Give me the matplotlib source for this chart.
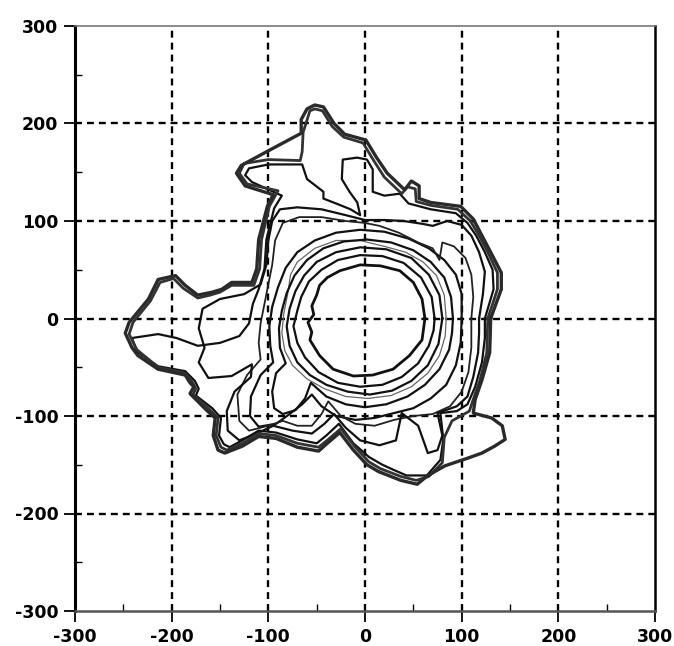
import matplotlib
matplotlib.use("Agg")
import matplotlib.pyplot as plt
from matplotlib.ticker import MultipleLocator

# Successive perimeter fronts (x, y), innermost first
front_1 = [(62, 0), (59, 20), (50, 37), (36, 49), (16, 54), (-5, 55), (-26, 49), (-39, 42), (-47, 34),
           (-50, 24), (-55, 13), (-53, 4), (-59, -4), (-55, -14), (-57, -22), (-47, -38), (-33, -52),
           (-12, -59), (8, -58), (29, -52), (46, -38), (59, -22)]
front_2 = [(72, 0), (69, 22), (58, 42), (40, 57), (18, 64), (-5, 65), (-28, 60), (-45, 50), (-58, 38),
           (-66, 22), (-70, 8), (-74, -8), (-70, -25), (-62, -40), (-48, -55), (-28, -66), (-5, -70),
           (18, -68), (38, -60), (55, -46), (66, -28), (71, -12)]
front_3 = [(80, 0), (77, 24), (66, 45), (48, 62), (22, 71), (-5, 73), (-30, 68), (-50, 58), (-63, 44),
           (-72, 28), (-78, 10), (-81, -8), (-78, -28), (-70, -45), (-57, -58), (-40, -68), (-18, -75),
           (5, -78), (28, -74), (48, -64), (65, -48), (76, -26)]
front_thin = [(84, 0), (82, 24), (74, 44), (60, 58), (42, 68), (20, 74), (-5, 80), (-30, 80), (-52, 72),
              (-70, 58), (-77, 45), (-80, 25), (-84, 5), (-86, -15), (-83, -33), (-75, -48), (-60, -62),
              (-42, -72), (-20, -80), (3, -82), (27, -79), (48, -70), (65, -56), (77, -38), (83, -18)]
front_4 = [(91, 0), (89, 22), (82, 42), (68, 58), (50, 70), (27, 78), (2, 81), (-22, 79), (-43, 72),
           (-60, 60), (-73, 44), (-81, 26), (-86, 8), (-89, -10), (-88, -30), (-82, -46), (-92, -56),
           (-96, -75), (-94, -92), (-85, -98), (-72, -94), (-62, -82), (-56, -66), (-40, -80), (-20, -88),
           (0, -91), (22, -88), (44, -80), (62, -68), (77, -52), (87, -32), (90, -15)]
front_5 = [(100, 0), (100, 25), (94, 45), (82, 60), (66, 72), (45, 82), (20, 89), (-5, 91), (-30, 88),
           (-52, 80), (-70, 68), (-82, 52), (-90, 32), (-96, 12), (-99, -8), (-98, -28), (-95, -45),
           (-108, -58), (-118, -80), (-119, -100), (-110, -111), (-92, -108), (-78, -98), (-65, -88),
           (-55, -78), (-45, -90), (-30, -100), (-10, -104), (10, -102), (30, -97), (50, -92), (68, -82),
           (84, -68), (94, -48), (99, -25)]
front_6 = [(110, 0), (112, 22), (110, 45), (104, 62), (92, 74), (80, 78), (77, 60), (70, 72), (55, 78),
           (35, 88), (15, 95), (0, 98), (-20, 100), (-45, 104), (-68, 104), (-85, 98), (-93, 80), (-96, 55),
           (-100, 35), (-104, 15), (-108, -5), (-110, -25), (-108, -42), (-122, -58), (-132, -78),
           (-130, -105), (-120, -115), (-100, -110), (-85, -105), (-70, -110), (-55, -110), (-45, -98),
           (-38, -85), (-25, -100), (-10, -108), (10, -110), (30, -104), (50, -100), (70, -98), (88, -90),
           (100, -75), (107, -55), (110, -30)]
front_7 = [(118, 0), (122, 25), (124, 48), (118, 68), (110, 85), (100, 96), (85, 100), (70, 95), (60, 97),
           (40, 100), (20, 101), (0, 101), (-20, 106), (-45, 112), (-70, 114), (-88, 112), (-96, 100),
           (-100, 80), (-102, 55), (-108, 35), (-125, 25), (-150, 20), (-168, 10), (-172, -10), (-166, -30),
           (-172, -45), (-162, -61), (-138, -59), (-117, -47), (-118, -60), (-135, -75), (-143, -95),
           (-142, -115), (-130, -125), (-112, -118), (-95, -110), (-75, -115), (-55, -118), (-42, -108),
           (-32, -98), (-20, -112), (-5, -125), (15, -130), (32, -125), (38, -97), (55, -110), (65, -138),
           (75, -135), (80, -120), (75, -97), (95, -90), (106, -80), (112, -60), (117, -35), (118, -15)]
front_8 = [(124, 0), (133, 30), (132, 50), (124, 68), (115, 85), (106, 98), (94, 108), (68, 112), (45, 118),
           (36, 128), (20, 126), (8, 130), (8, 153), (2, 163), (-8, 165), (-23, 163), (-24, 143), (-16, 130),
           (-8, 119), (-5, 106), (-15, 112), (-30, 118), (-43, 123), (-43, 130), (-60, 143), (-65, 158),
           (-100, 158), (-120, 154), (-124, 147), (-117, 140), (-86, 126), (-94, 113), (-102, 81),
           (-104, 51), (-110, 30), (-116, 15), (-120, -5), (-130, -18), (-150, -25), (-173, -28),
           (-195, -20), (-214, -16), (-241, -20), (-236, -34), (-214, -49), (-186, -54), (-176, -64),
           (-172, -72), (-175, -79), (-158, -92), (-149, -102), (-151, -120), (-146, -129), (-140, -132),
           (-127, -125), (-110, -115), (-92, -117), (-70, -124), (-50, -128), (-40, -120), (-27, -108),
           (-12, -128), (4, -142), (18, -150), (29, -155), (43, -161), (64, -161), (78, -145), (81, -124),
           (78, -97), (95, -95), (106, -88), (114, -70), (121, -45), (124, -20)]
front_9 = [(127, 0), (137, 30), (137, 47), (127, 68), (118, 85), (109, 100), (96, 112), (68, 116), (53, 120),
           (52, 133), (44, 135), (38, 128), (20, 145), (9, 162), (-2, 180), (-22, 186), (-34, 197),
           (-44, 213), (-52, 215), (-57, 213), (-64, 191), (-65, 171), (-67, 162), (-100, 163), (-125, 159),
           (-130, 149), (-122, 138), (-90, 131), (-99, 115), (-107, 81), (-109, 51), (-115, 34), (-138, 34),
           (-150, 27), (-160, 24), (-173, 21), (-188, 31), (-198, 41), (-212, 37), (-222, 18), (-240, -4),
           (-244, -16), (-236, -32), (-214, -50), (-186, -56), (-178, -66), (-175, -72), (-178, -78),
           (-161, -93), (-152, -102), (-154, -120), (-149, -132), (-143, -135), (-127, -128), (-110, -118),
           (-92, -120), (-70, -128), (-48, -132), (-38, -124), (-25, -113), (-10, -132), (4, -147),
           (16, -154), (37, -162), (53, -166), (66, -162), (80, -148), (82, -122), (90, -105), (108, -95),
           (112, -83), (119, -63), (126, -35)]
front_10 = [(130, 0), (141, 30), (141, 47), (130, 68), (121, 85), (112, 102), (99, 115), (68, 119),
            (56, 123), (56, 136), (48, 141), (41, 132), (23, 149), (12, 165), (1, 183), (-21, 189),
            (-32, 200), (-43, 217), (-52, 219), (-60, 215), (-66, 204), (-66, 190), (-100, 172),
            (-128, 157), (-133, 149), (-124, 136), (-95, 127), (-101, 115), (-110, 81), (-112, 51),
            (-117, 37), (-138, 37), (-148, 30), (-158, 27), (-173, 24), (-186, 34), (-196, 44), (-214, 40),
            (-224, 20), (-244, -4), (-248, -15), (-241, -30), (-235, -38), (-214, -52), (-186, -58),
            (-181, -66), (-177, -70), (-181, -77), (-164, -94), (-155, -102), (-157, -120), (-152, -135),
            (-145, -138), (-127, -131), (-110, -121), (-92, -123), (-70, -132), (-48, -136), (-39, -128),
            (-26, -117), (-12, -135), (2, -150), (14, -157), (37, -166), (54, -170), (65, -161),
            (83, -151), (107, -143), (121, -138), (134, -131), (145, -124), (142, -110), (131, -102),
            (112, -97), (114, -83), (121, -63), (129, -35)]

fronts = [front_1, front_2, front_3, front_thin, front_4, front_5, front_6, front_7, front_8, front_9, front_10]
styles = [
    dict(color="#111111", lw=2.0),
    dict(color="#111111", lw=1.6),
    dict(color="#111111", lw=1.6),
    dict(color="#666666", lw=0.9),
    dict(color="#111111", lw=1.6),
    dict(color="#111111", lw=1.6),
    dict(color="#222222", lw=1.3),
    dict(color="#111111", lw=1.6),
    dict(color="#111111", lw=1.6),
    dict(color="#333333", lw=2.0),
    dict(color="#2a2a2a", lw=2.4),
]

ticks = [-300, -200, -100, 0, 100, 200, 300]
grid_vals = [-200, -100, 0, 100, 200]

plt.rcParams["axes.unicode_minus"] = False
plt.rcParams["lines.scale_dashes"] = False

fig = plt.figure(figsize=(6.74, 6.46), dpi=100)
ax = fig.add_axes([75 / 674, 1 - 611 / 646, 580 / 674, 585 / 646])
ax.set_xlim(-300, 300)
ax.set_ylim(-300, 300)

for v in grid_vals:
    ax.axvline(v, color="black", lw=1.7, dashes=(5.0, 3.6), zorder=1)
    ax.axhline(v, color="black", lw=1.7, dashes=(5.0, 3.6), zorder=1)

for pts, st in zip(fronts, styles):
    xs = [p[0] for p in pts] + [pts[0][0]]
    ys = [p[1] for p in pts] + [pts[0][1]]
    ax.plot(xs, ys, solid_joinstyle="round", zorder=3, **st)

ax.set_xticks(ticks)
ax.set_yticks(ticks)
ax.xaxis.set_minor_locator(MultipleLocator(50))
ax.yaxis.set_minor_locator(MultipleLocator(50))
ax.tick_params(which="major", direction="out", length=8, width=1.3, pad=4,
               labelsize=12.5, top=False, right=False)
ax.tick_params(which="minor", direction="in", length=5, width=1.0, top=False, right=False)
for lab in ax.get_xticklabels() + ax.get_yticklabels():
    lab.set_fontweight("bold")
    lab.set_family("DejaVu Sans")

ax.spines["left"].set_linewidth(2.2)
ax.spines["left"].set_color("black")
ax.spines["right"].set_linewidth(1.8)
ax.spines["right"].set_color("black")
ax.spines["bottom"].set_linewidth(1.8)
ax.spines["bottom"].set_color("#555555")
ax.spines["top"].set_linewidth(1.2)
ax.spines["top"].set_color("#777777")

fig.savefig("out.png", dpi=100)
